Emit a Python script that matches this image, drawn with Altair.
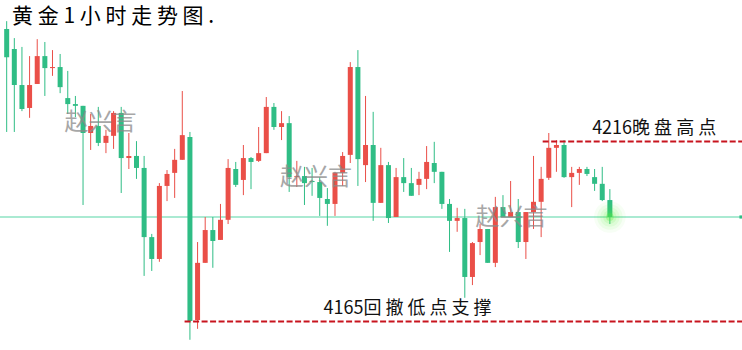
import altair as alt
import pandas as pd

# OHLC of gold 1-hour candles
opens = [4247.9, 4242.2, 4232.0, 4225.5, 4232.3, 4240.2, 4236.8, 4237.1, 4228.3, 4226.6,
         4226.1, 4218.4, 4220.4, 4215.6, 4217.6, 4224.1, 4211.3, 4211.9, 4208.5, 4188.9,
         4182.7, 4203.4, 4207.1, 4210.8, 4217.3, 4165.4, 4181.6, 4190.9, 4188.1, 4193.8,
         4208.2, 4205.1, 4211.3, 4210.5, 4212.7, 4225.8, 4220.1, 4221.2, 4205.9, 4206.2,
         4204.8, 4204.5, 4199.7, 4198.3, 4207.1, 4212.2, 4237.1, 4209.3, 4215.0, 4198.6,
         4209.3, 4194.6, 4205.9, 4204.2, 4203.7, 4205.4, 4209.9, 4207.4, 4198.3, 4193.5,
         4194.3, 4177.6, 4187.5, 4191.2, 4181.6, 4197.4, 4194.6, 4196.0, 4187.5, 4196.0,
         4198.9, 4205.7, 4214.2, 4215.0, 4205.9, 4207.1, 4208.2, 4205.9, 4204.0, 4199.4]
highs = [4250.1, 4245.3, 4242.8, 4240.2, 4245.0, 4244.2, 4241.9, 4240.8, 4236.0, 4228.9,
         4226.1, 4223.8, 4225.8, 4219.3, 4224.6, 4225.8, 4218.4, 4216.1, 4211.9, 4189.8,
         4204.2, 4207.9, 4213.9, 4230.3, 4218.7, 4187.5, 4194.6, 4194.6, 4198.3, 4211.0,
         4210.2, 4215.0, 4211.6, 4220.1, 4228.6, 4226.9, 4224.6, 4223.2, 4210.5, 4208.8,
         4208.5, 4205.9, 4202.8, 4207.4, 4213.0, 4238.5, 4241.9, 4228.9, 4224.4, 4214.2,
         4210.2, 4208.5, 4211.3, 4208.5, 4207.4, 4214.7, 4215.9, 4207.4, 4199.7, 4197.2,
         4196.9, 4187.5, 4192.6, 4191.2, 4200.3, 4200.8, 4204.8, 4199.7, 4196.0, 4211.9,
         4208.8, 4218.4, 4216.4, 4216.4, 4208.8, 4208.8, 4208.8, 4208.2, 4208.8, 4202.5]
lows = [4218.7, 4218.7, 4224.6, 4222.7, 4232.3, 4228.9, 4234.6, 4229.7, 4223.8, 4222.9,
        4198.0, 4213.6, 4214.7, 4212.7, 4213.9, 4201.4, 4208.2, 4205.4, 4177.9, 4179.3,
        4181.9, 4199.1, 4200.0, 4210.8, 4159.8, 4162.9, 4181.6, 4180.2, 4188.1, 4192.6,
        4203.1, 4200.8, 4202.5, 4210.2, 4212.7, 4219.3, 4216.4, 4201.7, 4203.1, 4198.0,
        4200.6, 4194.9, 4192.1, 4194.9, 4203.4, 4209.9, 4203.4, 4204.5, 4193.5, 4198.6,
        4192.9, 4194.6, 4201.7, 4200.6, 4200.8, 4202.5, 4204.2, 4196.9, 4184.7, 4190.4,
        4171.7, 4175.3, 4183.8, 4181.6, 4180.4, 4194.6, 4194.6, 4185.8, 4182.7, 4191.2,
        4188.9, 4205.1, 4207.4, 4205.7, 4197.4, 4203.7, 4206.2, 4202.0, 4199.1, 4192.6]
closes = [4239.9, 4232.0, 4225.2, 4232.0, 4240.2, 4236.8, 4237.1, 4231.4, 4226.6, 4226.1,
          4218.4, 4220.4, 4215.6, 4217.6, 4224.1, 4211.3, 4211.9, 4208.5, 4188.9, 4182.7,
          4203.4, 4206.8, 4210.8, 4217.8, 4165.1, 4181.6, 4190.9, 4187.8, 4193.8, 4208.5,
          4203.7, 4211.3, 4210.2, 4212.7, 4225.8, 4220.1, 4221.2, 4205.9, 4206.2, 4204.2,
          4204.5, 4200.0, 4198.3, 4207.1, 4211.9, 4237.1, 4211.0, 4215.0, 4198.6, 4209.3,
          4194.3, 4205.9, 4204.2, 4200.6, 4205.4, 4210.2, 4207.4, 4198.3, 4193.5, 4194.3,
          4177.6, 4187.2, 4191.2, 4181.6, 4197.4, 4194.6, 4196.0, 4187.5, 4196.0, 4198.9,
          4205.4, 4214.2, 4215.0, 4205.9, 4207.1, 4208.2, 4206.8, 4204.0, 4199.4, 4194.6]

title_text = "黄 金 1 小 时 走 势 图 ."
high_level = 4216
low_level = 4165
high_label = "4216晚 盘 高 点"
low_label = "4165回 撤 低 点 支 撑"
current_price = 4194.6
watermark_text = "赵兴言"
watermark_x = [12.3, 40.5, 66.1]
watermark_y = [4221.2, 4205.7, 4194.3]

W, H = 742, 350
X_DOMAIN = [-0.22, 95.65]
Y_DOMAIN = [4156.9, 4256.1]
GREEN = "#2fbd85"
RED = "#ea4f48"
DASH_RED = "#c8141e"

df = pd.DataFrame({"i": list(range(len(opens))), "open": opens, "high": highs,
                   "low": lows, "close": closes})
df["dir"] = ["up" if c >= o else "down" for o, c in zip(opens, closes)]

xs = alt.Scale(domain=X_DOMAIN, nice=False, zero=False)
ys = alt.Scale(domain=Y_DOMAIN, nice=False, zero=False)
col = alt.Color("dir:N", scale=alt.Scale(domain=["up", "down"], range=[RED, GREEN]), legend=None)
X = alt.X("i:Q", scale=xs, axis=None)

base = alt.Chart(df)
wicks = base.mark_rule(strokeWidth=1).encode(
    x=X, y=alt.Y("low:Q", scale=ys, axis=None), y2="high:Q", color=col)
bodies = base.mark_bar(size=5).encode(
    x=X, y=alt.Y("open:Q", scale=ys, axis=None), y2="close:Q", color=col)

cur = pd.DataFrame({"p": [current_price], "i": [len(opens) - 1]})
cur_line = alt.Chart(cur).mark_rule(color="#8ee3c3", strokeWidth=1.5).encode(
    y=alt.Y("p:Q", scale=ys, axis=None), x=alt.value(0), x2=alt.value(W))
cur_end = alt.Chart(cur).mark_point(shape="square", filled=True, size=10, color="#2fbd85", opacity=1).encode(
    y=alt.Y("p:Q", scale=ys, axis=None), x=alt.value(W - 1))

glows = []
for s, o in [(1000, 0.05), (650, 0.07), (380, 0.09), (180, 0.13), (60, 0.3)]:
    glows.append(alt.Chart(cur).mark_circle(size=s, color="#5af03c", opacity=o).encode(
        x=X, y=alt.Y("p:Q", scale=ys, axis=None)))

levels = pd.DataFrame({"p": [high_level, low_level], "start": [70.2, 23.3]})
dash_lines = alt.Chart(levels).mark_rule(color=DASH_RED, strokeWidth=2, strokeDash=[6, 2.5]).encode(
    y=alt.Y("p:Q", scale=ys, axis=None), x=alt.X("start:Q", scale=xs, axis=None), x2=alt.value(W))

labels = pd.DataFrame({"p": [high_level, low_level], "i": [84.8, 52.5], "t": [high_label, low_label]})
label_text = alt.Chart(labels).mark_text(
    font="Noto Sans CJK SC", fontSize=18, color="#111111", baseline="alphabetic", dy=-7, align="center"
).encode(x=alt.X("i:Q", scale=xs, axis=None), y=alt.Y("p:Q", scale=ys, axis=None), text="t:N")

wm = pd.DataFrame({"i": watermark_x, "p": watermark_y, "t": [watermark_text] * 3})
wm_text = alt.Chart(wm).mark_text(
    font="Noto Sans CJK SC", fontSize=24, color="#8a8a8a", opacity=0.75, baseline="middle", align="center"
).encode(x=alt.X("i:Q", scale=xs, axis=None), y=alt.Y("p:Q", scale=ys, axis=None), text="t:N")

title = alt.Chart(pd.DataFrame({"t": [title_text]})).mark_text(
    font="Noto Sans CJK SC", fontSize=21, color="#000000", align="left", baseline="alphabetic"
).encode(x=alt.value(12), y=alt.value(23), text="t:N")

chart = alt.layer(
    cur_line, wicks, bodies, *glows, cur_end, dash_lines, label_text, wm_text, title
).properties(
    width=W, height=H, autosize=alt.AutoSizeParams(type="none"), padding=0,
    background="#ffffff"
).configure_view(stroke=None)

chart.save("out.html", embed_options={"renderer": "svg", "actions": False})
